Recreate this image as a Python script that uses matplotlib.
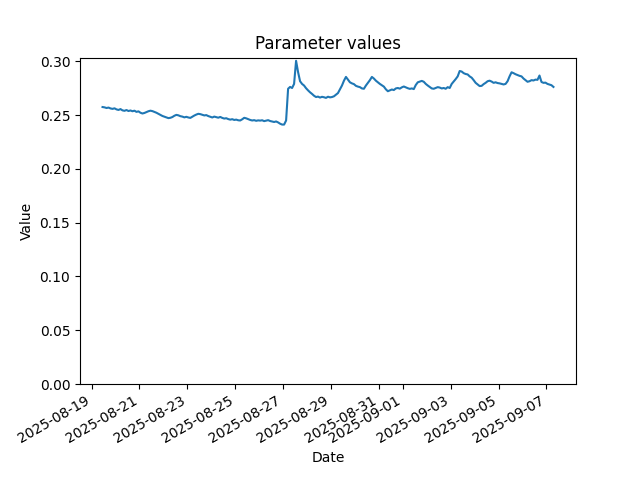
import matplotlib
matplotlib.use("Agg")
import matplotlib.pyplot as plt
import pandas as pd

title = "Parameter values"
x_label = "Date"
y_label = "Value"
start_time = "2025-08-19 11:00"
step = "2h"

# one row per day, values every 2 hours
values = [
    0.2575, 0.2572, 0.2566, 0.2570, 0.2562, 0.2558, 0.2563,                          # 08-19
    0.2553, 0.2548, 0.2556, 0.2544, 0.2540, 0.2547, 0.2538, 0.2543, 0.2536, 0.2541, 0.2530, 0.2535,  # 08-20
    0.2522, 0.2515, 0.2520, 0.2528, 0.2536, 0.2541, 0.2537, 0.2530, 0.2522, 0.2512, 0.2503, 0.2492,  # 08-21
    0.2485, 0.2478, 0.2472, 0.2475, 0.2482, 0.2494, 0.2502, 0.2498, 0.2490, 0.2486, 0.2479, 0.2484,  # 08-22
    0.2478, 0.2474, 0.2485, 0.2496, 0.2505, 0.2512, 0.2509, 0.2503, 0.2497, 0.2500, 0.2491, 0.2484,  # 08-23
    0.2478, 0.2486, 0.2481, 0.2476, 0.2483, 0.2474, 0.2468, 0.2471, 0.2463, 0.2458, 0.2462, 0.2455,  # 08-24
    0.2458, 0.2452, 0.2450, 0.2461, 0.2475, 0.2470, 0.2462, 0.2455, 0.2450, 0.2453, 0.2447, 0.2451,  # 08-25
    0.2449, 0.2452, 0.2444, 0.2448, 0.2453, 0.2445, 0.2440, 0.2436, 0.2441, 0.2432, 0.2420, 0.2412,  # 08-26
    0.2412, 0.2450, 0.2745, 0.2762, 0.2752, 0.2790, 0.3005, 0.2900, 0.2815, 0.2790, 0.2775, 0.2750,  # 08-27
    0.2730, 0.2712, 0.2697, 0.2680, 0.2668, 0.2672, 0.2663, 0.2670, 0.2666, 0.2660, 0.2671, 0.2665,  # 08-28
    0.2668, 0.2675, 0.2690, 0.2705, 0.2740, 0.2775, 0.2820, 0.2855, 0.2830, 0.2805, 0.2795, 0.2788,  # 08-29
    0.2772, 0.2765, 0.2760, 0.2748, 0.2745, 0.2775, 0.2800, 0.2825, 0.2855, 0.2840, 0.2820, 0.2805,  # 08-30
    0.2790, 0.2778, 0.2765, 0.2740, 0.2722, 0.2730, 0.2738, 0.2733, 0.2748, 0.2752, 0.2746, 0.2758,  # 08-31
    0.2766, 0.2758, 0.2750, 0.2744, 0.2748, 0.2742, 0.2780, 0.2805, 0.2812, 0.2818, 0.2810, 0.2790,  # 09-01
    0.2775, 0.2762, 0.2748, 0.2745, 0.2752, 0.2760, 0.2756, 0.2748, 0.2752, 0.2745, 0.2760, 0.2752,  # 09-02
    0.2790, 0.2812, 0.2835, 0.2860, 0.2910, 0.2905, 0.2890, 0.2882, 0.2878, 0.2860, 0.2848, 0.2825,  # 09-03
    0.2800, 0.2785, 0.2770, 0.2772, 0.2788, 0.2800, 0.2815, 0.2820, 0.2812, 0.2800, 0.2805, 0.2798,  # 09-04
    0.2795, 0.2790, 0.2785, 0.2790, 0.2815, 0.2860, 0.2898, 0.2890, 0.2880, 0.2872, 0.2865, 0.2860,  # 09-05
    0.2840, 0.2825, 0.2810, 0.2815, 0.2825, 0.2822, 0.2830, 0.2828, 0.2868, 0.2808, 0.2800, 0.2802,  # 09-06
    0.2790, 0.2784, 0.2778, 0.2762,                                                  # 09-07
]

dates = pd.date_range(start=start_time, periods=len(values), freq=step)

fig, ax = plt.subplots(figsize=(6.4, 4.8), dpi=100)
ax.plot(dates, values)
ax.set_ylim(bottom=0)
ax.set_title(title)
ax.set_xlabel(x_label)
ax.set_ylabel(y_label)
fig.autofmt_xdate()
fig.savefig("out.png")
